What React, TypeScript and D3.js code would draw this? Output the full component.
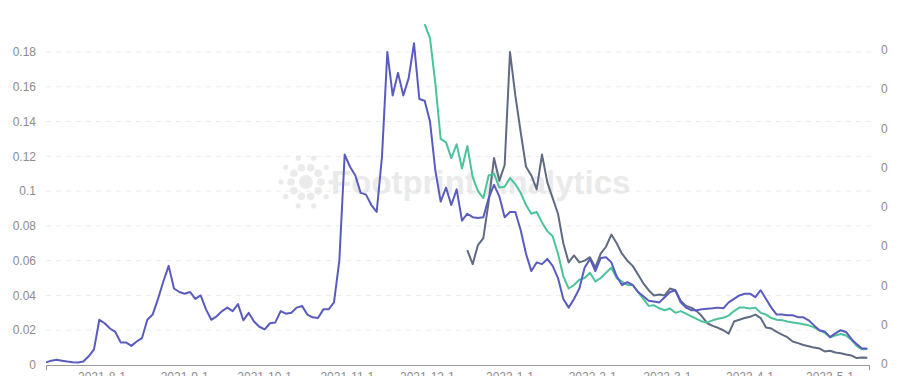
import React from "react";
import * as d3 from "d3";

// ---- data ----
const DOMAIN_START = "2021-07-11";
const DOMAIN_END = "2022-05-16";
const STEP_DAYS = 2;

const BLUE_START = "2021-07-11";
const GREEN_START = "2021-11-30";
const GRAY_START = "2021-12-16";

const blueValues = [
  0.0015, 0.0025, 0.003, 0.0025, 0.002, 0.0016, 0.0015, 0.002, 0.005, 0.009,
  0.026, 0.024, 0.021, 0.019, 0.013, 0.013, 0.011, 0.0135, 0.0155, 0.026,
  0.029, 0.038, 0.048, 0.057, 0.044, 0.042, 0.041, 0.042, 0.038, 0.04,
  0.032, 0.026, 0.028, 0.031, 0.033, 0.031, 0.035, 0.0257, 0.03, 0.025,
  0.022, 0.0205, 0.024, 0.0245, 0.031, 0.0295, 0.03, 0.033, 0.034, 0.029,
  0.0274, 0.027, 0.032, 0.032, 0.036, 0.06, 0.121, 0.114, 0.109, 0.099,
  0.098, 0.092, 0.088, 0.12, 0.18, 0.155, 0.168, 0.155, 0.165, 0.185,
  0.153, 0.152, 0.14, 0.112, 0.094, 0.102, 0.092, 0.101, 0.083, 0.087,
  0.085, 0.0845, 0.085, 0.096, 0.1036, 0.097, 0.085, 0.088, 0.088, 0.0776,
  0.064, 0.054, 0.059, 0.058, 0.061, 0.057, 0.05, 0.038, 0.033, 0.038,
  0.044, 0.056, 0.061, 0.054, 0.0615, 0.062, 0.059, 0.051, 0.046, 0.0476,
  0.046, 0.042, 0.0395, 0.037, 0.0365, 0.036, 0.039, 0.042, 0.043, 0.036,
  0.033, 0.0315, 0.0315, 0.032, 0.0323, 0.0326, 0.033, 0.0326, 0.036, 0.038,
  0.04, 0.041, 0.041, 0.039, 0.043, 0.038, 0.033, 0.029, 0.029, 0.0286,
  0.0286, 0.0275, 0.0274, 0.0257, 0.0228, 0.02, 0.0193, 0.016, 0.0182, 0.02,
  0.019, 0.015, 0.012, 0.0095, 0.0095,
];

const greenValues = [
  0.196, 0.188, 0.162, 0.13, 0.128, 0.119, 0.127, 0.113, 0.126, 0.108,
  0.1, 0.096, 0.109, 0.11, 0.102, 0.1025, 0.1075, 0.104, 0.099, 0.092,
  0.087, 0.088, 0.082, 0.077, 0.074, 0.064, 0.051, 0.044, 0.046, 0.049,
  0.05, 0.053, 0.048, 0.05, 0.053, 0.056, 0.05, 0.048, 0.046, 0.046,
  0.042, 0.038, 0.034, 0.0343, 0.0326, 0.0315, 0.0325, 0.03, 0.031, 0.0295,
  0.028, 0.0265, 0.025, 0.0245, 0.0257, 0.0266, 0.0272, 0.0284, 0.031, 0.033,
  0.033, 0.0325, 0.033, 0.03, 0.029, 0.027, 0.026, 0.0258, 0.025, 0.0245,
  0.024, 0.0234, 0.0228, 0.0216, 0.02, 0.0185, 0.016, 0.017, 0.0178, 0.017,
  0.0145, 0.011, 0.009, 0.0092,
];

const grayValues = [
  0.066, 0.058, 0.069, 0.073, 0.094, 0.119, 0.106, 0.115, 0.18, 0.155,
  0.134, 0.114, 0.109, 0.101, 0.121, 0.105, 0.096, 0.087, 0.07, 0.059,
  0.063, 0.059, 0.06, 0.062, 0.056, 0.064, 0.068, 0.075, 0.07, 0.064,
  0.06, 0.057, 0.052, 0.047, 0.043, 0.04, 0.0405, 0.04, 0.044, 0.043,
  0.037, 0.034, 0.033, 0.031, 0.028, 0.024, 0.0225, 0.0214, 0.02, 0.018,
  0.025, 0.026, 0.027, 0.0277, 0.029, 0.027, 0.0216, 0.021, 0.019, 0.0175,
  0.016, 0.0135, 0.0126, 0.0115, 0.0108, 0.01, 0.0095, 0.0078, 0.0082, 0.0072,
  0.0068, 0.006, 0.0055, 0.004, 0.0043, 0.0042,
];

const leftTicks = [0, 0.02, 0.04, 0.06, 0.08, 0.1, 0.12, 0.14, 0.16, 0.18];
const leftTickLabels = ["0", "0.02", "0.04", "0.06", "0.08", "0.1", "0.12", "0.14", "0.16", "0.18"];
const rightTicks = [0, 1, 2, 3, 4, 5, 6, 7, 8];
const rightTickLabels = ["0", "0", "0", "0", "0", "0", "0", "0", "0"];
const xTickDates = [
  "2021-08-01", "2021-09-01", "2021-10-01", "2021-11-01", "2021-12-01",
  "2022-01-01", "2022-02-01", "2022-03-01", "2022-04-01", "2022-05-01",
];
const xTickLabels = [
  "2021-8-1", "2021-9-1", "2021-10-1", "2021-11-1", "2021-12-1",
  "2022-1-1", "2022-2-1", "2022-3-1", "2022-4-1", "2022-5-1",
];

// ---- layout / style ----
const W = 911;
const H = 376;
const LEFT = 46;
const RIGHT = 870;
const BOTTOM = 365;
const TOP = 52;
const FONT = "'Liberation Sans', Arial, sans-serif";
const COLORS = { blue: "#5a5bbf", green: "#4cc39a", gray: "#5f6b82" };

const parse = d3.utcParse("%Y-%m-%d");

function seriesPoints(start: string, values: number[]) {
  const s = parse(start)!;
  return values.map((v, i) => ({ date: d3.utcDay.offset(s, i * STEP_DAYS), value: v }));
}

export default function App() {
  const x = d3.scaleUtc().domain([parse(DOMAIN_START)!, parse(DOMAIN_END)!]).range([LEFT, RIGHT]);
  const y = d3.scaleLinear().domain([0, 0.18]).range([BOTTOM, TOP]);
  const yR = d3.scaleLinear().domain([0, 8]).range([BOTTOM - 1, 50]);

  const line = d3
    .line<{ date: Date; value: number }>()
    .x((d) => x(d.date))
    .y((d) => y(d.value));

  const series = [
    { key: "gray", pts: seriesPoints(GRAY_START, grayValues), color: COLORS.gray },
    { key: "green", pts: seriesPoints(GREEN_START, greenValues), color: COLORS.green },
    { key: "blue", pts: seriesPoints(BLUE_START, blueValues), color: COLORS.blue },
  ];

  // watermark logo dots
  const logoCx = 306;
  const logoCy = 182;
  const rays = d3.range(10);

  return (
    <svg
      width={W}
      height={H}
      style={{ position: "absolute", left: 0, top: 0, background: "#fff" }}
      fontFamily={FONT}
    >
      {/* grid */}
      {leftTicks.slice(1).map((t, i) => (
        <line
          key={"g" + i}
          x1={LEFT}
          x2={RIGHT + 2}
          y1={y(t)}
          y2={y(t)}
          stroke="#ececec"
          strokeDasharray="5,5"
        />
      ))}

      {/* watermark */}
      <g opacity={0.5}>
        <circle cx={logoCx} cy={logoCy} r={7} fill="#d8d8d8" />
        {rays.map((r) => {
          const a = (r / 10) * Math.PI * 2;
          return (
            <g key={"r" + r}>
              <circle cx={logoCx + Math.cos(a) * 15} cy={logoCy + Math.sin(a) * 15} r={3.8} fill="#d8d8d8" />
              <circle cx={logoCx + Math.cos(a) * 25} cy={logoCy + Math.sin(a) * 25} r={2.6} fill="#d8d8d8" />
            </g>
          );
        })}
        <text x={331} y={194} fontSize={33} fontWeight="bold" fill="#d6d6d6" fontFamily={FONT}>
          Footprint Analytics
        </text>
      </g>

      {/* x axis */}
      <line x1={LEFT} x2={RIGHT} y1={BOTTOM + 0.5} y2={BOTTOM + 0.5} stroke="#9a9a9a" />
      <line x1={LEFT + 0.5} x2={LEFT + 0.5} y1={BOTTOM} y2={BOTTOM + 5} stroke="#9a9a9a" />
      <line x1={RIGHT - 0.5} x2={RIGHT - 0.5} y1={BOTTOM} y2={BOTTOM + 5} stroke="#9a9a9a" />
      {xTickDates.map((d, i) => (
        <text key={"xt" + i} x={x(parse(d)!)} y={381} fontSize={12} fill="#8c8c8c" textAnchor="middle">
          {xTickLabels[i]}
        </text>
      ))}

      {/* left axis labels */}
      {leftTicks.map((t, i) => (
        <text key={"yl" + i} x={36} y={y(t)} dy="0.35em" fontSize={12} fill="#8c8c8c" textAnchor="end">
          {leftTickLabels[i]}
        </text>
      ))}

      {/* right axis labels */}
      {rightTicks.map((t, i) => (
        <text key={"yr" + i} x={881} y={yR(t)} dy="0.35em" fontSize={12} fill="#8c8c8c" textAnchor="start">
          {rightTickLabels[i]}
        </text>
      ))}

      {/* lines */}
      {series.map((s) => (
        <path
          key={s.key}
          d={line(s.pts) || ""}
          fill="none"
          stroke={s.color}
          strokeWidth={2}
          strokeLinejoin="round"
        />
      ))}
    </svg>
  );
}
